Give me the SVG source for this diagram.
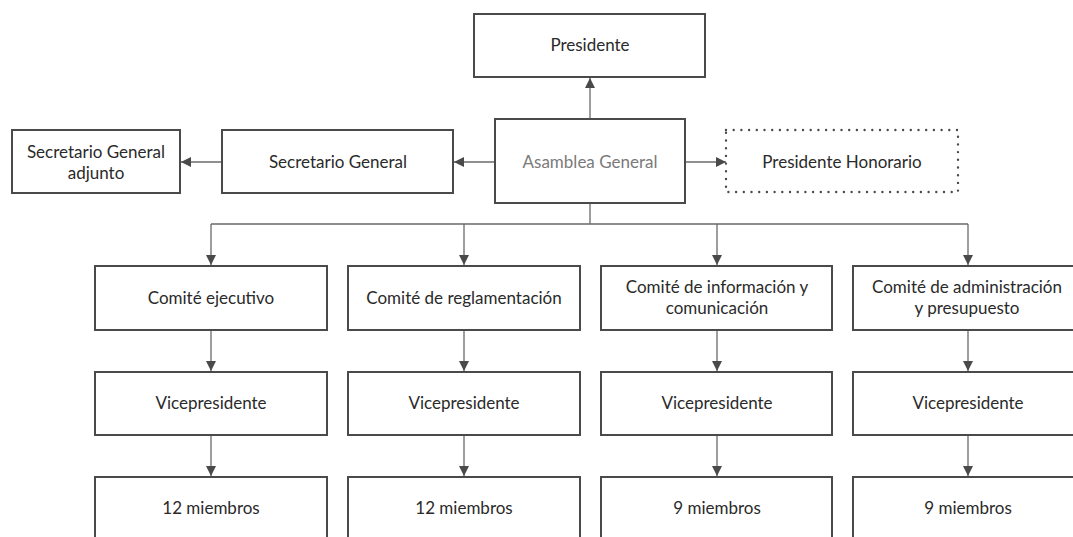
<svg xmlns="http://www.w3.org/2000/svg" width="1073" height="537" viewBox="0 0 1073 537">
  <style>
    .box { fill: #ffffff; stroke: #4a4a4a; stroke-width: 2; }
    .dotted { fill: #ffffff; stroke: #4a4a4a; stroke-width: 2.4; stroke-dasharray: 0 7.7; stroke-linecap: round; }
    .lbl { font-family: Lato, "Noto Sans", sans-serif; font-size: 17px; font-weight: 400; fill: #2a2a2a; text-anchor: middle; }
    .muted { fill: #7a7a7a; }
    .wire { fill: none; stroke: #6a6a6a; stroke-width: 1.3; }
    .arrow { marker-end: url(#head); }
  </style>
  <defs>
    <marker id="head" viewBox="0 0 10 10" refX="10" refY="5" markerWidth="10" markerHeight="10" markerUnits="userSpaceOnUse" orient="auto">
      <path d="M0,0 L10,5 L0,10 Z" fill="#4a4a4a"/>
    </marker>
  </defs>
  <rect width="1073" height="537" fill="#ffffff"/>

  <!-- connectors -->
  <g id="connectors">
    <line class="wire arrow" x1="590" y1="119" x2="590" y2="78"/>
    <line class="wire arrow" x1="495" y1="162" x2="454" y2="162"/>
    <line class="wire arrow" x1="222" y1="162" x2="181" y2="162"/>
    <line class="wire arrow" x1="685" y1="162" x2="726" y2="162"/>
    <path class="wire" d="M590,203 V224 M211,224 H968"/>
    <line class="wire arrow" x1="211" y1="224" x2="211" y2="265"/>
    <line class="wire arrow" x1="464" y1="224" x2="464" y2="265"/>
    <line class="wire arrow" x1="717" y1="224" x2="717" y2="265"/>
    <line class="wire arrow" x1="968" y1="224" x2="968" y2="265"/>
    <line class="wire arrow" x1="211" y1="330" x2="211" y2="371"/>
    <line class="wire arrow" x1="464" y1="330" x2="464" y2="371"/>
    <line class="wire arrow" x1="717" y1="330" x2="717" y2="371"/>
    <line class="wire arrow" x1="968" y1="330" x2="968" y2="371"/>
    <line class="wire arrow" x1="211" y1="435" x2="211" y2="476"/>
    <line class="wire arrow" x1="464" y1="435" x2="464" y2="476"/>
    <line class="wire arrow" x1="717" y1="435" x2="717" y2="476"/>
    <line class="wire arrow" x1="968" y1="435" x2="968" y2="476"/>
  </g>

  <!-- top level -->
  <g id="presidente">
    <rect class="box" x="474" y="14" width="231" height="63"/>
    <text class="lbl" x="590" y="51">Presidente</text>
  </g>
  <g id="asamblea">
    <rect class="box" x="495" y="119" width="190" height="84"/>
    <text class="lbl muted" x="590" y="168">Asamblea General</text>
  </g>
  <g id="secretario">
    <rect class="box" x="222" y="130" width="231" height="63"/>
    <text class="lbl" x="338" y="168">Secretario General</text>
  </g>
  <g id="secretario-adjunto">
    <rect class="box" x="12" y="130" width="168" height="63"/>
    <text class="lbl" x="96" y="158">Secretario General</text>
    <text class="lbl" x="96" y="179">adjunto</text>
  </g>
  <g id="presidente-honorario">
    <rect class="dotted" x="726" y="130" width="232" height="62"/>
    <text class="lbl" x="842" y="168">Presidente Honorario</text>
  </g>

  <!-- committees -->
  <g id="comite-ejecutivo">
    <rect class="box" x="95" y="266" width="232" height="64"/>
    <text class="lbl" x="211" y="304">Comité ejecutivo</text>
  </g>
  <g id="comite-reglamentacion">
    <rect class="box" x="348" y="266" width="232" height="64"/>
    <text class="lbl" x="464" y="304">Comité de reglamentación</text>
  </g>
  <g id="comite-informacion">
    <rect class="box" x="601" y="266" width="231" height="64"/>
    <text class="lbl" x="717" y="293">Comité de información y</text>
    <text class="lbl" x="717" y="314">comunicación</text>
  </g>
  <g id="comite-administracion">
    <rect class="box" x="853" y="266" width="232" height="64"/>
    <text class="lbl" x="967" y="293">Comité de administración</text>
    <text class="lbl" x="967" y="314">y presupuesto</text>
  </g>

  <!-- vice presidents -->
  <g id="vice-1">
    <rect class="box" x="95" y="372" width="232" height="63"/>
    <text class="lbl" x="211" y="409">Vicepresidente</text>
  </g>
  <g id="vice-2">
    <rect class="box" x="348" y="372" width="232" height="63"/>
    <text class="lbl" x="464" y="409">Vicepresidente</text>
  </g>
  <g id="vice-3">
    <rect class="box" x="601" y="372" width="231" height="63"/>
    <text class="lbl" x="717" y="409">Vicepresidente</text>
  </g>
  <g id="vice-4">
    <rect class="box" x="853" y="372" width="232" height="63"/>
    <text class="lbl" x="968" y="409">Vicepresidente</text>
  </g>

  <!-- members -->
  <g id="miembros-1">
    <rect class="box" x="95" y="477" width="232" height="80"/>
    <text class="lbl" x="211" y="514">12 miembros</text>
  </g>
  <g id="miembros-2">
    <rect class="box" x="348" y="477" width="232" height="80"/>
    <text class="lbl" x="464" y="514">12 miembros</text>
  </g>
  <g id="miembros-3">
    <rect class="box" x="601" y="477" width="231" height="80"/>
    <text class="lbl" x="717" y="514">9 miembros</text>
  </g>
  <g id="miembros-4">
    <rect class="box" x="853" y="477" width="232" height="80"/>
    <text class="lbl" x="968" y="514">9 miembros</text>
  </g>
</svg>
